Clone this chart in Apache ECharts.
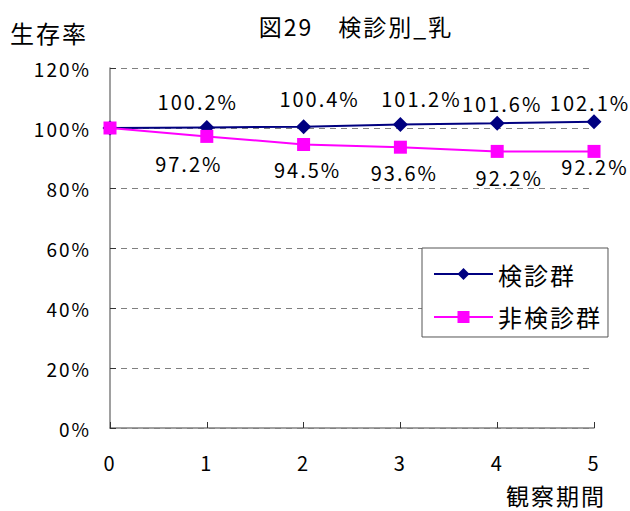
<!DOCTYPE html>
<html><head><meta charset="utf-8">
<script src="https://cdn.jsdelivr.net/npm/echarts@6/dist/echarts.min.js"></script>
<style>html,body{margin:0;padding:0;background:#fff}#c{width:630px;height:511px}#c text{letter-spacing:2px}</style>
</head><body><div id="c"></div>
<script>
const periods = [0, 1, 2, 3, 4, 5];
const kenshin = [100.0, 100.2, 100.4, 101.2, 101.6, 102.1];
const hiKenshin = [100.0, 97.2, 94.5, 93.6, 92.2, 92.2];
const kenshinLabels = ['', '100.2%', '100.4%', '101.2%', '101.6%', '102.1%'];
const hiKenshinLabels = ['', '97.2%', '94.5%', '93.6%', '92.2%', '92.2%'];
const yTicks = [0, 20, 40, 60, 80, 100, 120];
const xAxisTitle = '観察期間';
const yAxisTitle = '生存率';
// label offsets (layout only)
const kOff = [[0,0],[-9,-26],[16,-28],[21,-26],[5,-20],[-4,-19]];
const hOff = [[0,0],[-18,27],[4,25],[4,25],[12,26],[1,15]];

const FONT = '"Noto Sans CJK JP", sans-serif';
const chart = echarts.init(document.getElementById('c'), null, {renderer:'svg'});
function build(vals, labels, off){
  return periods.map((p,i)=>({value:[p, vals[i]], label:{show: labels[i]!=='', formatter: labels[i], offset: off[i]}}));
}
chart.setOption({
  animation:false,
  backgroundColor:'#fff',
  title:{text:'図29　検診別_乳', left:351, top:9, textAlign:'center',
    textStyle:{fontFamily:FONT, fontSize:23, fontWeight:'normal', color:'#000'}},
  grid:{left:110, right:36, top:68, bottom:83},
  legend:{orient:'vertical', left:422, top:248,
    padding:[14,14,8,11], itemGap:19, itemWidth:59, itemHeight:15,
    borderColor:'#555', borderWidth:1, backgroundColor:'#fff',
    textStyle:{fontFamily:FONT, fontSize:24, color:'#000'},
    data:['検診群','非検診群']},
  graphic:[
    {type:'text', x:606, y:495, silent:true,
      style:{text:xAxisTitle, align:'right', verticalAlign:'middle', font:'23px "Noto Sans CJK JP", sans-serif', fill:'#000'}},
    {type:'text', x:10, y:20, silent:true,
      style:{text:yAxisTitle, align:'left', verticalAlign:'top', font:'24px "Noto Sans CJK JP", sans-serif', fill:'#000'}}
  ],
  xAxis:{type:'value', min:0, max:5, interval:1,
    axisLine:{lineStyle:{color:'#808080', width:1.5}},
    axisTick:{show:true, inside:true, length:6, lineStyle:{color:'#333'}},
    axisLabel:{margin:25, fontFamily:FONT, fontSize:20, lineHeight:18, color:'#000'},
    splitLine:{show:false}},
  yAxis:{type:'value', min:0, max:120, interval:20,
    axisLine:{show:true, lineStyle:{color:'#808080', width:1.5}},
    axisTick:{show:true, inside:true, length:6, lineStyle:{color:'#333'}},
    axisLabel:{margin:19, fontFamily:FONT, fontSize:19, color:'#000',
      formatter:(v)=> yTicks.includes(v) ? v+'%' : ''},
    splitLine:{show:true, lineStyle:{type:[6,5], color:'#808080', width:1}}},
  series:[
    {name:'検診群', type:'line', data:build(kenshin, kenshinLabels, kOff),
      symbol:'diamond', symbolSize:15, z:3,
      itemStyle:{color:'#000080'}, lineStyle:{color:'#000080', width:2},
      label:{position:'inside', fontFamily:FONT, fontSize:20, color:'#000'}},
    {name:'非検診群', type:'line', data:build(hiKenshin, hiKenshinLabels, hOff),
      symbol:'rect', symbolSize:13, z:4,
      itemStyle:{color:'#FF00FF'}, lineStyle:{color:'#FF00FF', width:2},
      label:{position:'inside', fontFamily:FONT, fontSize:20, color:'#000'}}
  ]
});
</script></body></html>
